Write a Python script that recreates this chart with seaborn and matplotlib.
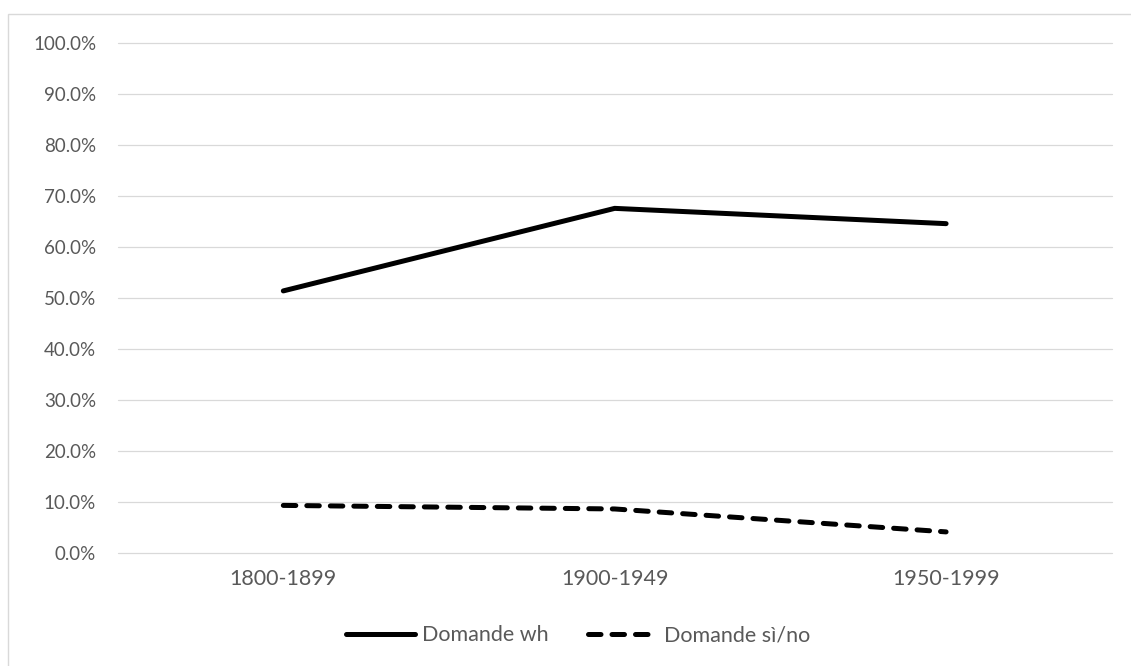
import matplotlib
matplotlib.use("Agg")
import matplotlib.pyplot as plt
from matplotlib.patches import Rectangle
from matplotlib.ticker import FuncFormatter
import seaborn as sns
import pandas as pd

# values
periodi = ["1800-1899", "1900-1949", "1950-1999"]
domande_wh = [51.4, 67.6, 64.6]
domande_si_no = [9.3, 8.6, 4.1]
serie = ["Domande wh", "Domande sì/no"]

df = pd.DataFrame({
    "periodo": periodi * 2,
    "valore": domande_wh + domande_si_no,
    "serie": [serie[0]] * 3 + [serie[1]] * 3,
})

sns.set_theme(style="white")
plt.rcParams["font.family"] = ["Lato", "DejaVu Sans"]
grigio = "#595959"

fig = plt.figure(figsize=(11.31, 6.66), dpi=100)
ax = fig.add_axes([0.104, 0.170, 0.879, 0.765])

sns.lineplot(data=df, x="periodo", y="valore", style="serie", color="black",
             dashes={serie[0]: "", serie[1]: (2.5, 2.2)}, linewidth=3.6,
             ax=ax, legend=True)
for ln in ax.lines:
    ln.set_dash_capstyle("round")
    ln.set_solid_capstyle("round")

ax.set_xlim(-0.5, 2.5)
ax.set_ylim(0, 100)
ax.set_yticks(range(0, 101, 10))
ax.yaxis.set_major_formatter(FuncFormatter(lambda v, p: f"{v:.1f}%"))
ax.grid(axis="y", color="#d9d9d9", linewidth=0.9)
ax.set_axisbelow(True)
for gl in ax.get_ygridlines():
    gl.set_clip_on(False)
for s in ax.spines.values():
    s.set_visible(False)
ax.set_xlabel("")
ax.set_ylabel("")
ax.tick_params(axis="both", length=0, colors=grigio)
ax.tick_params(axis="y", pad=15.5, labelsize=13.5)
ax.tick_params(axis="x", pad=12, labelsize=15.5)

handles, labels = ax.get_legend_handles_labels()
for h in handles:
    h.set_color("black")
    h.set_linewidth(3.6)
    h.set_dash_capstyle("round")
leg = fig.legend(handles, labels, loc="center", bbox_to_anchor=(0.511, 0.046),
                 ncol=2, frameon=False, fontsize=15.5, handlelength=3.2,
                 handletextpad=0.35, columnspacing=1.8)
for t in leg.get_texts():
    t.set_color(grigio)
if ax.get_legend() is not None:
    ax.get_legend().remove()

# light frame around the chart area
fig.patches.append(Rectangle((7.5 / 1131, -0.1), 1.2, 1.1 - 14 / 666,
                             transform=fig.transFigure, fill=False,
                             edgecolor="#d9d9d9", linewidth=1.0))

fig.savefig("out.png", dpi=100)
